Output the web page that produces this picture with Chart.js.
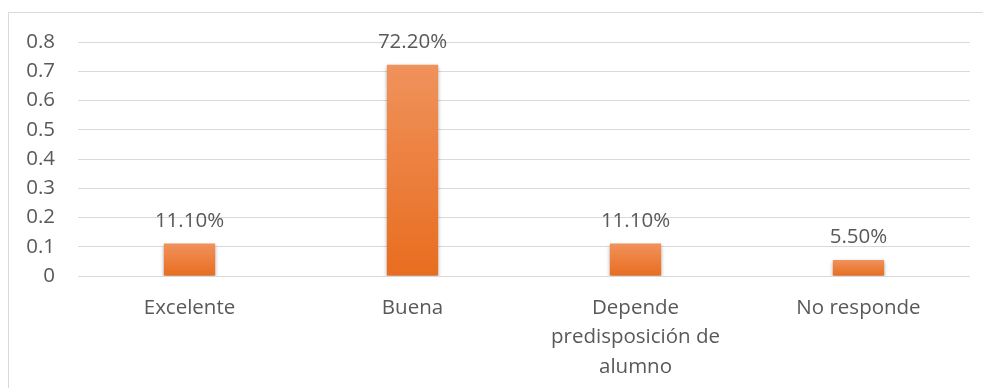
<!DOCTYPE html>
<html>
<head>
<meta charset="utf-8">
<script src="https://cdn.jsdelivr.net/npm/chart.js@4/dist/chart.umd.min.js"></script>
<style>
  html, body { margin: 0; padding: 0; background: #fff; overflow: hidden; }
  #frame { position: absolute; left: 8px; top: 12px; width: 1000px; height: 400px; border: 1px solid #d9d9d9; }
  #wrap { position: absolute; left: 0; top: 0; width: 983px; height: 388px; }
</style>
</head>
<body>
<div id="frame"></div>
<div id="wrap"><canvas id="myChart" width="983" height="388"></canvas></div>
<script>
// categories and values
const categories = [
  "Excelente",
  "Buena",
  ["Depende", "predisposición de", "alumno"],
  "No responde"
];
const values = [0.111, 0.722, 0.111, 0.055];
const yTicks = [0, 0.1, 0.2, 0.3, 0.4, 0.5, 0.6, 0.7, 0.8];

const textColor = "#595959";
const gridColor = "#d9d9d9";
const fontFamily = "'Open Sans', sans-serif";

// gradient per bar, lighter on top
function barGradient(context) {
  const chart = context.chart;
  if (!chart.chartArea) return "#ED7D31";
  const v = context.parsed ? context.parsed.y : values[context.dataIndex];
  const yScale = chart.scales.y;
  const top = yScale.getPixelForValue(v);
  const bottom = yScale.getPixelForValue(0);
  const g = chart.ctx.createLinearGradient(0, top, 0, bottom);
  g.addColorStop(0, "#F0925C");
  g.addColorStop(1, "#E86D1F");
  return g;
}

// soft shadow under the bars
const barShadow = {
  id: "barShadow",
  beforeDatasetDraw(chart) {
    const ctx = chart.ctx;
    ctx.save();
    ctx.shadowColor = "rgba(0,0,0,0.35)";
    ctx.shadowBlur = 4;
    ctx.shadowOffsetY = 2;
  },
  afterDatasetDraw(chart) {
    chart.ctx.restore();
  }
};

// value labels above bars
const valueLabels = {
  id: "valueLabels",
  afterDatasetsDraw(chart) {
    const ctx = chart.ctx;
    const meta = chart.getDatasetMeta(0);
    ctx.save();
    ctx.font = "20.5px " + fontFamily;
    ctx.fillStyle = textColor;
    ctx.textAlign = "center";
    ctx.textBaseline = "alphabetic";
    meta.data.forEach((bar, i) => {
      const txt = (values[i] * 100).toFixed(2) + "%";
      ctx.fillText(txt, bar.x, bar.y - 17);
    });
    ctx.restore();
  }
};

const ctx = document.getElementById("myChart").getContext("2d");
new Chart(ctx, {
  type: "bar",
  data: {
    labels: categories,
    datasets: [{
      data: values,
      backgroundColor: barGradient,
      borderWidth: 0,
      categoryPercentage: 1,
      barPercentage: 0.23
    }]
  },
  options: {
    responsive: false,
    animation: false,
    layout: { padding: { left: 0, right: 13, top: 42, bottom: 0 } },
    plugins: {
      legend: { display: false },
      tooltip: { enabled: false }
    },
    scales: {
      x: {
        grid: { display: false, drawTicks: false },
        border: { display: false },
        ticks: {
          color: textColor,
          font: { family: fontFamily, size: 20.5, lineHeight: 1.44 },
          padding: 17,
          maxRotation: 0,
          autoSkip: false
        },
        afterFit(scale) { scale.height = 112; }
      },
      y: {
        min: 0,
        max: 0.8,
        afterBuildTicks(scale) { scale.ticks = yTicks.map(v => ({ value: v })); },
        grid: { color: gridColor, lineWidth: 1, drawTicks: false },
        border: { display: false },
        ticks: {
          color: textColor,
          font: { family: fontFamily, size: 20.5 },
          padding: 23,
          callback: v => String(Math.round(v * 10) / 10)
        },
        afterFit(scale) { scale.width = 78; }
      }
    }
  },
  plugins: [barShadow, valueLabels]
});
</script>
</body>
</html>
